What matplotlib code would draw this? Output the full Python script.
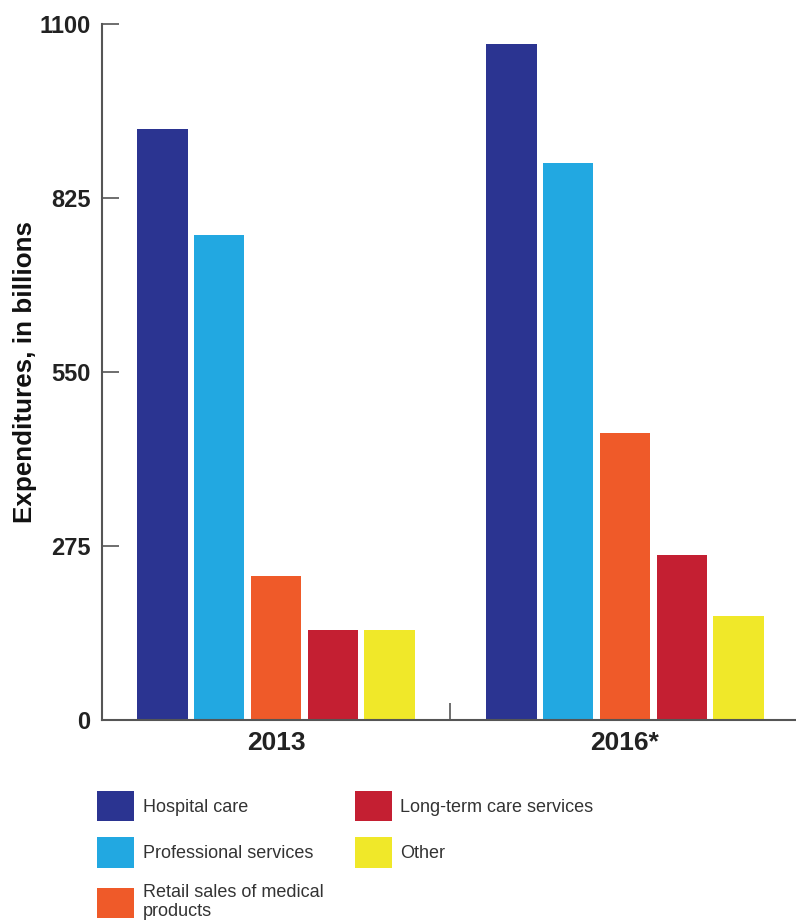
import matplotlib
matplotlib.use("Agg")
import matplotlib.pyplot as plt
import numpy as np
from matplotlib.patches import Patch

# ---- data ----
years = ["2013", "2016*"]
categories = ["Hospital care", "Professional services",
              "Retail sales of medical\nproducts",
              "Long-term care services", "Other"]
hospital = [934, 1068]
professional = [766, 881]
retail = [228, 454]
longterm = [143, 261]
other = [143, 164]
yticks = [0, 275, 550, 825, 1100]

series = [hospital, professional, retail, longterm, other]
colors = ["#2b3491", "#22a8e1", "#ef5a29", "#c41f32", "#f0e829"]

plt.rcParams['font.family'] = ['Liberation Sans', 'DejaVu Sans']

fig = plt.figure(figsize=(7.96, 9.22), dpi=100)
ax = fig.add_axes([101.5/796, 1-720/922, 698/796, 696/922])

x = np.arange(len(years)) + 0.5
pitch = 0.1625
width = 0.144
for k, (vals, c) in enumerate(zip(series, colors)):
    ax.bar(x + (k - 2) * pitch, vals, width=width, color=c, zorder=2)

ax.set_xlim(0, 2)
ax.set_ylim(0, 1100)
ax.set_yticks(yticks)
ax.set_yticklabels([str(t) for t in yticks], fontsize=17, fontweight='bold', color='#222222')
ax.set_xticks(x)
ax.set_xticklabels(years, fontsize=19, fontweight='bold', color='#222222')
ax.set_xticks([1, 2], minor=True)
ax.tick_params(axis='x', which='major', length=0, pad=8)
ax.tick_params(axis='x', which='minor', direction='in', length=12, width=1.2, color='#555555')
ax.tick_params(axis='y', direction='in', length=12, width=1.2, color='#555555', pad=8)

for s in ['top', 'right']:
    ax.spines[s].set_visible(False)
for s in ['left', 'bottom']:
    ax.spines[s].set_color('#555555')
    ax.spines[s].set_linewidth(1.5)

ax.set_ylabel("Expenditures, in billions", fontsize=18.7, fontweight='bold', color='#111111')
ax.yaxis.set_label_coords(-0.0924, 0.5)

handles = [Patch(facecolor=c, edgecolor='none') for c in colors]
leg = fig.legend(handles, categories, ncol=2, loc='upper left',
                 bbox_to_anchor=(92/796, 1-786/922), frameon=False,
                 prop={'family': ['Liberation Sans'], 'size': 13},
                 handlelength=2.05, handleheight=2.18, handletextpad=0.45,
                 labelspacing=0.89, columnspacing=1.75, borderaxespad=0, borderpad=0.3)
for t in leg.get_texts():
    t.set_color('#333333')

fig.savefig("out.png", dpi=100)
